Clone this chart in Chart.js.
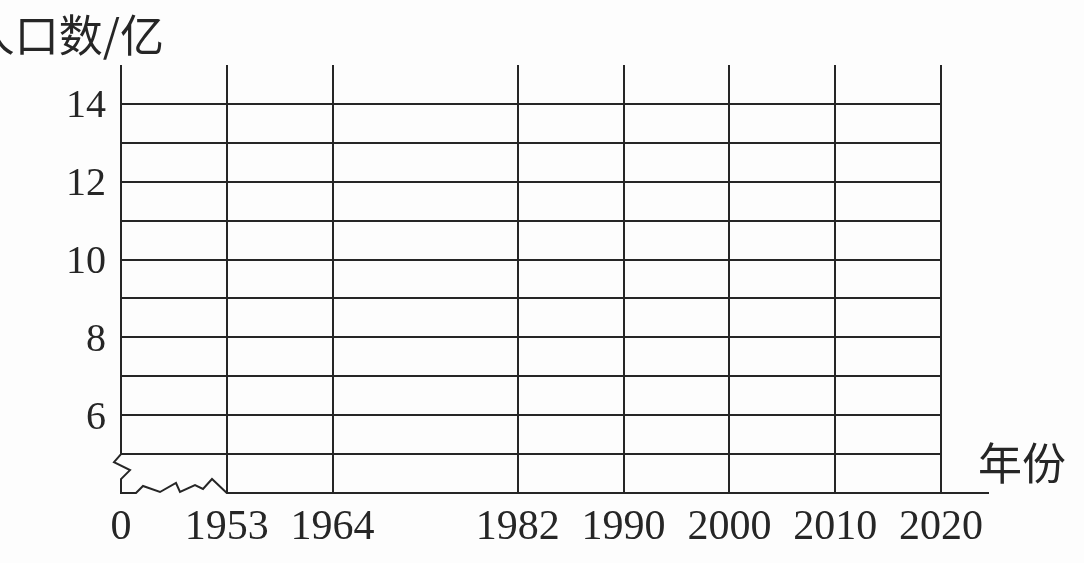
<!DOCTYPE html>
<html lang="zh">
<head>
<meta charset="utf-8">
<title>人口数/亿</title>
<script src="https://cdn.jsdelivr.net/npm/chart.js@4.4.1/dist/chart.umd.min.js"></script>
<style>
  html, body { margin: 0; padding: 0; background: #fdfdfd; }
  #wrap { width: 1084px; height: 563px; position: relative; }
</style>
</head>
<body>
<div id="wrap"><canvas id="gridChart"></canvas></div>
<script>
// 1. 数据：横轴年份、纵轴刻度（图里是空白坐标纸，还没有描点）
const years = ['0', '1953', '1964', '1982', '1990', '2000', '2010', '2020'];
const population = [];
const yTickLabels = [6, 8, 10, 12, 14];
const yMin = 4;
const yMax = 15;
const gridFrom = 5;
const gridTo = 14;
const yTitle = '人口数/亿';
const xTitle = '年份';

// 相邻两个年份之间占几个小格（1964 到 1982 之间留得宽一些）
const slots = [4, 4, 7, 4, 4, 4, 4];

const categories = [];
years.forEach((year, i) => {
    categories.push(year);
    for (let k = 1; k < (slots[i] || 0); k++) categories.push('');
});

const ink = '#262626';
const serif = "'Liberation Serif', 'DejaVu Serif', serif";
const cjk = "'Noto Sans CJK SC', 'Noto Sans CJK JP', sans-serif";

// 2. 断轴符号、横轴延长线和两个轴标题
const paperPlugin = {
    id: 'paper',
    afterDraw(chart) {
        const { ctx, chartArea } = chart;
        const xs = chart.scales.x;
        const ys = chart.scales.y;
        const x0 = xs.getPixelForValue(0);
        const x1953 = xs.getPixelForValue(categories.indexOf('1953'));
        const yBase = ys.getPixelForValue(yMin);
        const yFive = ys.getPixelForValue(gridFrom);

        ctx.save();
        ctx.strokeStyle = ink;
        ctx.lineWidth = 2;
        ctx.lineJoin = 'miter';

        // 纵轴 + 锯齿
        ctx.beginPath();
        ctx.moveTo(x0, chartArea.top);
        ctx.lineTo(x0, yFive);
        ctx.lineTo(x0 - 7, yFive + 8);
        ctx.lineTo(x0 + 9, yFive + 16);
        ctx.lineTo(x0, yFive + 25);
        ctx.lineTo(x0, yBase);
        // 底边锯齿
        const zig = [[15, 0], [22, -7], [39, -1], [55, -10], [59, -1], [74, -8], [82, -4], [91, -14]];
        zig.forEach(([dx, dy]) => ctx.lineTo(x0 + dx, yBase + dy));
        ctx.lineTo(x1953, yBase);
        // 横轴（延伸到 2020 之后）
        ctx.lineTo(chartArea.right + 48, yBase);
        ctx.stroke();

        ctx.fillStyle = ink;
        ctx.font = '44px ' + cjk;
        ctx.textBaseline = 'middle';
        ctx.textAlign = 'right';
        ctx.fillText(yTitle, x0 + 43, chartArea.top - 30);
        ctx.textAlign = 'center';
        ctx.fillText(xTitle, chartArea.right + 81, yBase - 30);
        ctx.restore();
    }
};

// 3. 画图
const gridChart = new Chart(document.getElementById('gridChart'), {
    type: 'line',
    data: {
        labels: categories,
        datasets: [{ label: yTitle, data: population, borderColor: ink }]
    },
    options: {
        responsive: true,
        maintainAspectRatio: false,
        animation: false,
        layout: { padding: { top: 65, right: 143, bottom: 0, left: 0 } },
        plugins: {
            legend: { display: false },
            tooltip: { enabled: false }
        },
        scales: {
            x: {
                type: 'category',
                offset: false,
                border: { display: false },
                grid: {
                    drawTicks: false,
                    lineWidth: 2,
                    color: (c) => (c.tick && c.tick.value > 0 && categories[c.tick.value] !== '') ? ink : 'rgba(0,0,0,0)'
                },
                ticks: {
                    autoSkip: false,
                    maxRotation: 0,
                    minRotation: 0,
                    padding: 10,
                    color: ink,
                    font: { family: serif, size: 42 },
                    callback: (value) => categories[value]
                },
                afterFit: (scale) => { scale.height = 70; }
            },
            y: {
                type: 'linear',
                min: yMin,
                max: yMax,
                border: { display: false },
                grid: {
                    drawTicks: false,
                    lineWidth: 2,
                    color: (c) => (c.tick && c.tick.value >= gridFrom && c.tick.value <= gridTo) ? ink : 'rgba(0,0,0,0)'
                },
                ticks: {
                    stepSize: 1,
                    autoSkip: false,
                    padding: 15,
                    labelOffset: 3,
                    color: ink,
                    font: { family: serif, size: 40 },
                    callback: (value) => yTickLabels.includes(value) ? String(value) : ''
                },
                afterFit: (scale) => { scale.width = 121; }
            }
        }
    },
    plugins: [paperPlugin]
});
</script>
</body>
</html>
